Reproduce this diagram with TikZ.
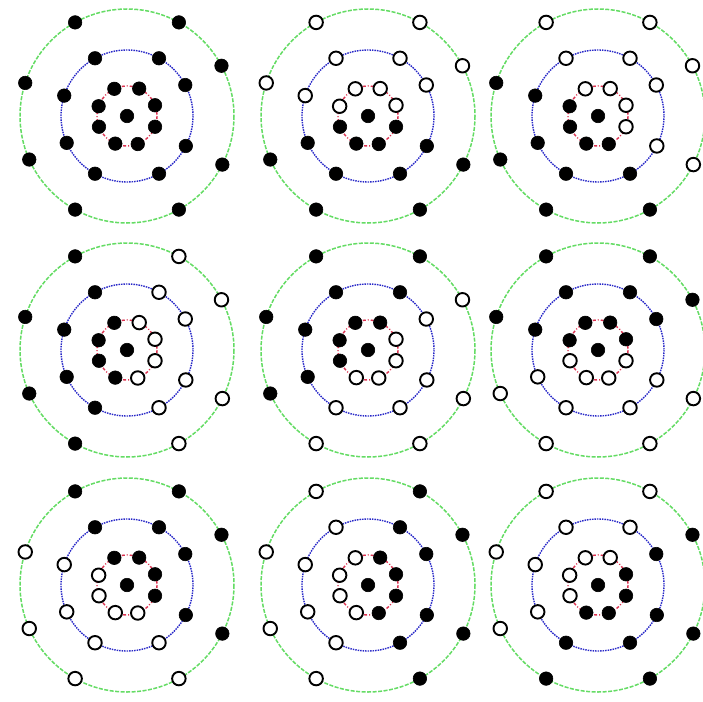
\documentclass[tikz,border=0pt]{standalone}
\usetikzlibrary{calc}
\definecolor{ringgreen}{RGB}{100,220,100}
\definecolor{ringblue}{RGB}{40,40,200}
\definecolor{ringred}{RGB}{220,50,80}
\tikzset{
  dotfull/.style={circle, fill=black, draw=black, line width=0.6bp, minimum size=13.5bp, inner sep=0pt},
  dotopen/.style={circle, fill=white, draw=black, line width=1.9bp, minimum size=13.5bp, inner sep=0pt},
  ringouter/.style={draw=ringgreen, line width=1.5bp, dash pattern=on 4bp off 1.5bp},
  ringmid/.style={draw=ringblue, line width=1.4bp, dash pattern=on 1.5bp off 1bp},
  ringinner/.style={draw=ringred, line width=1.4bp, dash pattern=on 3bp off 2bp on 1bp off 2bp},
}
\begin{document}
\begin{tikzpicture}[x=1bp,y=-1bp]
  \useasboundingbox[fill=white] (0,0) rectangle (703,702);
  % panel: index / centre x / centre y
  \foreach \p/\cx/\cy in {1/127/116, 2/368/116, 3/598/116,
                          4/127/350, 5/368/350, 6/598/350,
                          7/127/585, 8/368/585, 9/598/585} {
    \coordinate (c\p) at (\cx,\cy);
    \draw[ringouter] (c\p) circle[radius=107];
    \draw[ringmid]   (c\p) circle[radius=66];
    \draw[ringinner] (c\p) circle[radius=30];
  }
  % panel / first open position (0 = none); angles counter-clockwise, y points down
  \foreach \p/\s in {1/0, 2/1, 3/8, 4/7, 5/6, 6/5, 7/4, 8/3, 9/2} {
    \node[dotfull] (n\p-c) at (c\p) {};
    \foreach \ao/\ai [count=\k] in {28/21, 61/66, 119/115, 162/161, 204/201, 241/247, 299/291, 333/339} {
      \pgfmathtruncatemacro\isopen{(\s>0)*(mod(\k-\s+16,8)<4)}
      \ifnum\isopen=1
        \node[dotopen] (n\p-o\k) at ($(c\p)+(-\ao:107)$) {};
        \node[dotopen] (n\p-m\k) at ($(c\p)+(-\ao:66)$) {};
        \node[dotopen] (n\p-i\k) at ($(c\p)+(-\ai:30)$) {};
      \else
        \node[dotfull] (n\p-o\k) at ($(c\p)+(-\ao:107)$) {};
        \node[dotfull] (n\p-m\k) at ($(c\p)+(-\ao:66)$) {};
        \node[dotfull] (n\p-i\k) at ($(c\p)+(-\ai:30)$) {};
      \fi
    }
  }
\end{tikzpicture}
\end{document}
